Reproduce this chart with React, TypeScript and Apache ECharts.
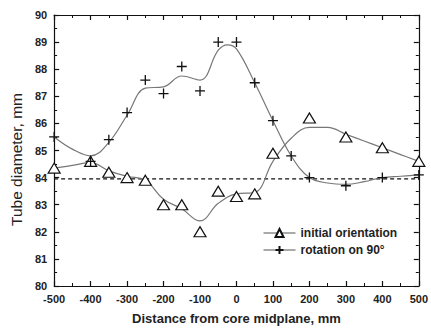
import React, { useEffect, useRef } from "react";
import * as echarts from "echarts";

const pointX = [-500, -400, -350, -300, -250, -200, -150, -100, -50, 0, 50, 100, 200, 300, 400, 500];
const initialPoints = [84.35, 84.6, 84.2, 84.0, 83.9, 83.0, 83.0, 82.0, 83.5, 83.3, 83.4, 84.9, 86.2, 85.5, 85.1, 84.6];

const rotX = [-500, -400, -350, -300, -250, -200, -150, -100, -50, 0, 50, 100, 150, 200, 300, 400, 500];
const rotationPoints = [85.5, 84.6, 85.4, 86.4, 87.6, 87.1, 88.1, 87.2, 89.0, 89.0, 87.5, 86.1, 84.8, 84.0, 83.7, 84.0, 84.1];

const curveX = [-500, -450, -400, -350, -300, -250, -200, -150, -100, -50, 0, 50, 100, 150, 200, 250, 300, 350, 400, 450, 500];
const initialCurve = [84.35, 84.45, 84.55, 84.25, 84.05, 83.9, 83.2, 82.85, 82.4, 83.05, 83.4, 83.45, 84.6, 85.45, 85.85, 85.85, 85.6, 85.35, 85.1, 84.85, 84.6];

const rotCurveX = [-500, -450, -400, -350, -300, -250, -200, -150, -100, -50, -25, 0, 50, 100, 150, 200, 250, 300, 350, 400, 450, 500];
const rotationCurve = [85.5, 85.05, 84.8, 85.3, 86.3, 87.3, 87.35, 87.75, 87.6, 88.7, 88.9, 88.75, 87.5, 86.1, 84.8, 84.0, 83.8, 83.75, 83.85, 84.0, 84.05, 84.1];

const refLevel = 83.95;
const xTicks = { min: -500, max: 500, step: 100 };
const yTicks = { min: 80, max: 90, step: 1 };

const zip = (xs: number[], ys: number[]) => xs.map((x, i) => [x, ys[i]]);

export default function App() {
  const ref = useRef<HTMLDivElement>(null);
  useEffect(() => {
    if (!ref.current) return;
    const chart = echarts.init(ref.current, null, { renderer: "svg" });
    const font = "Arial, 'Liberation Sans', sans-serif";
    const axisCommon = {
      axisLine: { show: true, onZero: false, lineStyle: { color: "#111", width: 1.2 } },
      axisTick: { show: true, inside: true, length: 5, lineStyle: { color: "#111", width: 1.2 } },
      minorTick: { show: true, splitNumber: 2, length: 3, lineStyle: { color: "#111", width: 1 } },
      splitLine: { show: false },
    };
    const xBase = { type: "value", min: xTicks.min, max: xTicks.max, interval: xTicks.step };
    const yBase = { type: "value", min: yTicks.min, max: yTicks.max, interval: yTicks.step };
    chart.setOption({
      animation: false,
      backgroundColor: "#fff",
      grid: { left: 52, right: 7, top: 15, bottom: 43 },
      legend: {
        orient: "vertical",
        left: 258,
        top: 222,
        itemWidth: 32,
        itemHeight: 10,
        itemGap: 5,
        data: ["initial orientation", "rotation on 90°"],
        lineStyle: { color: "#555", width: 1, opacity: 1 },
        textStyle: { fontFamily: font, fontSize: 12, fontWeight: "bold", color: "#222" },
      },
      xAxis: [
        {
          ...xBase,
          ...axisCommon,
          position: "bottom",
          name: "Distance from core midplane, mm",
          nameLocation: "middle",
          nameGap: 26,
          nameTextStyle: { fontFamily: font, fontSize: 13, fontWeight: "bold", color: "#222" },
          axisLabel: { fontFamily: font, fontSize: 11, fontWeight: "bold", color: "#222", margin: 7 },
        },
        { ...xBase, ...axisCommon, position: "top", axisLabel: { show: false } },
      ],
      yAxis: [
        {
          ...yBase,
          ...axisCommon,
          position: "left",
          name: "Tube diameter, mm",
          nameLocation: "middle",
          nameGap: 29,
          nameTextStyle: { fontFamily: font, fontSize: 15.5, color: "#222", padding: [0, 18, 0, 0] },
          axisLabel: { fontFamily: font, fontSize: 11, fontWeight: "bold", color: "#222", margin: 7 },
        },
        { ...yBase, ...axisCommon, position: "right", axisLabel: { show: false } },
      ],
      series: [
        {
          type: "line",
          data: [[xTicks.min, refLevel], [xTicks.max, refLevel]],
          showSymbol: false,
          lineStyle: { color: "#111", width: 1.3, type: [4, 3] },
          silent: true,
          z: 1,
        },
        {
          type: "line",
          data: zip(curveX, initialCurve),
          smooth: 0.4,
          showSymbol: false,
          lineStyle: { color: "#777", width: 1.2 },
          z: 2,
        },
        {
          type: "line",
          data: zip(rotCurveX, rotationCurve),
          smooth: 0.4,
          showSymbol: false,
          lineStyle: { color: "#777", width: 1.2 },
          z: 2,
        },
        {
          name: "initial orientation",
          type: "line",
          data: zip(pointX, initialPoints),
          symbol: "triangle",
          symbolSize: [12, 10],
          lineStyle: { opacity: 0 },
          itemStyle: { color: "#fff", borderColor: "#111", borderWidth: 1.2 },
          z: 3,
        },
        {
          name: "rotation on 90°",
          type: "line",
          data: zip(rotX, rotationPoints),
          symbol: "path://M5,0L5,10M0,5L10,5",
          symbolSize: 10,
          lineStyle: { opacity: 0 },
          itemStyle: { color: "#111", borderColor: "#111", borderWidth: 1.3 },
          z: 3,
        },
      ],
    });
    return () => chart.dispose();
  }, []);
  return <div ref={ref} style={{ position: "fixed", left: 0, top: 0, width: 431, height: 330 }} />;
}
